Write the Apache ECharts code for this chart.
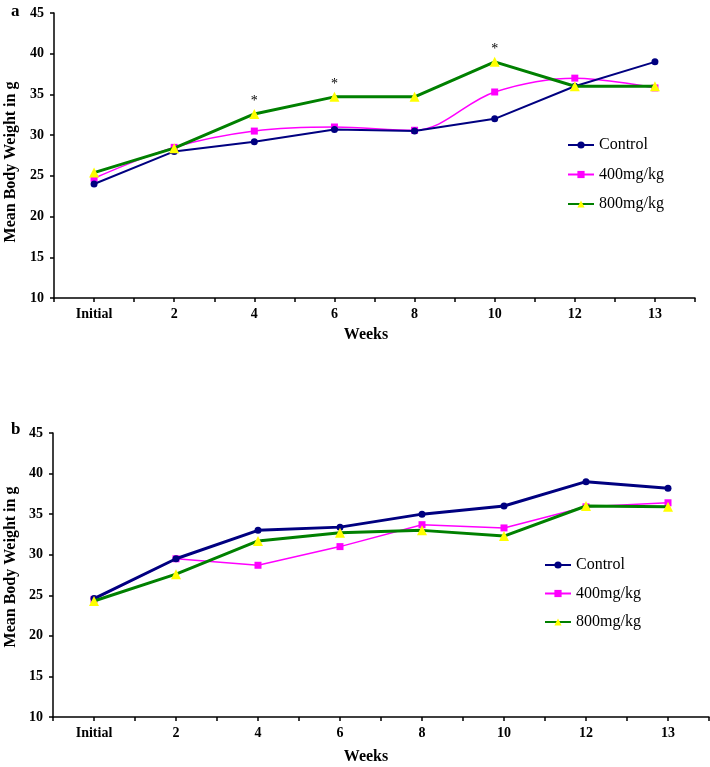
<!DOCTYPE html>
<html>
<head>
<meta charset="utf-8">
<script src="https://cdn.jsdelivr.net/npm/echarts@6/dist/echarts.min.js"></script>
<style>
html,body{margin:0;padding:0;background:#fff;}
#c{width:710px;height:767px;}
</style>
</head>
<body>
<div id="c"></div>
<script>
var weeks = ['Initial', '2', '4', '6', '8', '10', '12', '13'];
var seriesNames = ['Control', '400mg/kg', '800mg/kg'];
var yTicks = [10, 15, 20, 25, 30, 35, 40, 45];

// Panel a
var controlA = [24.0, 28.0, 29.2, 30.7, 30.5, 32.0, 36.0, 39.0];
var dose400A = [24.7, 28.5, 30.5, 31.0, 30.6, 35.3, 37.0, 35.8];
var dose800A = [25.4, 28.4, 32.6, 34.7, 34.7, 39.0, 36.0, 36.0];
var signifA = [2, 3, 5]; // indices marked with *

// Panel b
var controlB = [24.6, 29.5, 33.0, 33.4, 35.0, 36.0, 39.0, 38.2];
var dose400B = [24.5, 29.5, 28.7, 31.0, 33.7, 33.3, 35.9, 36.4];
var dose800B = [24.3, 27.6, 31.7, 32.7, 33.0, 32.3, 36.0, 35.9];

var serif = '"Liberation Serif","Times New Roman",serif';

function pts(arr, marks) {
  return arr.map(function (v, i) {
    var d = { value: [i, v] };
    if (marks && marks.indexOf(i) >= 0) {
      d.label = { show: true, formatter: '*', position: 'top', distance: 1,
        fontFamily: serif, fontSize: 14, color: '#000' };
    }
    return d;
  });
}

function xAxisCfg(gi) {
  return {
    type: 'value', gridIndex: gi, min: -0.5, max: weeks.length - 0.5, interval: 0.5,
    axisLine: { show: true, onZero: false, lineStyle: { color: '#000', width: 1.5 } },
    axisTick: { show: true, length: 4, lineStyle: { color: '#000', width: 1.5 } },
    splitLine: { show: false },
    axisLabel: {
      margin: 9, fontFamily: serif, fontWeight: 'bold', fontSize: 14, color: '#000',
      showMinLabel: true, showMaxLabel: true,
      formatter: function (v) {
        var r = Math.round(v);
        return Math.abs(v - r) < 1e-6 && r >= 0 && r < weeks.length ? weeks[r] : '';
      }
    }
  };
}
function yAxisCfg(gi) {
  return {
    type: 'value', gridIndex: gi, min: yTicks[0], max: yTicks[yTicks.length - 1], interval: 5,
    axisLine: { show: true, onZero: false, lineStyle: { color: '#000', width: 1.5 } },
    axisTick: { show: true, length: 4, lineStyle: { color: '#000', width: 1.5 } },
    splitLine: { show: false },
    axisLabel: { margin: 10, fontFamily: serif, fontWeight: 'bold', fontSize: 14, color: '#000' }
  };
}

function lineSeries(name, gi, data, color, symColor, symbol, size, width, smooth, z) {
  return {
    name: name, type: 'line', xAxisIndex: gi, yAxisIndex: gi, data: data,
    symbol: symbol, symbolSize: size, smooth: smooth, z: z,
    lineStyle: { color: color, width: width },
    itemStyle: { color: symColor, borderWidth: 0 },
    emphasis: { disabled: true }, animation: false
  };
}

var chart = echarts.init(document.getElementById('c'));
chart.setOption({
  backgroundColor: '#fff',
  animation: false,
  grid: [
    { left: 54, top: 13, width: 641, height: 285, outerBoundsMode: 'none', containLabel: false },
    { left: 53, top: 433, width: 656, height: 284, outerBoundsMode: 'none', containLabel: false }
  ],
  xAxis: [xAxisCfg(0), xAxisCfg(1)],
  yAxis: [yAxisCfg(0), yAxisCfg(1)],
  legend: [
    {
      left: 562, top: 132, orient: 'vertical', itemWidth: 26, itemHeight: 9, itemGap: 13.5,
      textStyle: { fontFamily: serif, fontSize: 16, color: '#000', lineHeight: 16 },
      data: seriesNames.map(function (n) { return { name: n }; }),
      selectedMode: false
    },
    {
      left: 539, top: 552, orient: 'vertical', itemWidth: 26, itemHeight: 9, itemGap: 12.5,
      textStyle: { fontFamily: serif, fontSize: 16, color: '#000', lineHeight: 16 },
      data: seriesNames.map(function (n) { return { name: n + ' ' }; }),
      selectedMode: false
    }
  ],
  series: [
    lineSeries(seriesNames[0], 0, pts(controlA), '#000080', '#000080', 'circle', 7, 2, false, 3),
    lineSeries(seriesNames[1], 0, pts(dose400A), '#FF00FF', '#FF00FF', 'rect', 7, 1.5, 0.35, 2),
    lineSeries(seriesNames[2], 0, pts(dose800A, signifA), '#008000', '#FFFF00', 'triangle', 10, 3, false, 4),
    lineSeries(seriesNames[0] + ' ', 1, pts(controlB), '#000080', '#000080', 'circle', 7, 3, false, 3),
    lineSeries(seriesNames[1] + ' ', 1, pts(dose400B), '#FF00FF', '#FF00FF', 'rect', 7, 1.5, false, 2),
    lineSeries(seriesNames[2] + ' ', 1, pts(dose800B), '#008000', '#FFFF00', 'triangle', 10, 3, false, 4)
  ],
  graphic: [
    { type: 'text', left: 11, top: 3, style: { text: 'a', font: 'bold 17px ' + serif, fill: '#000' } },
    { type: 'text', left: 11, top: 421, style: { text: 'b', font: 'bold 17px ' + serif, fill: '#000' } },
    { type: 'text', x: 11, y: 162, rotation: Math.PI / 2,
      style: { text: 'Mean Body Weight in g', font: 'bold 16px ' + serif, fill: '#000', align: 'center', verticalAlign: 'middle' } },
    { type: 'text', x: 11, y: 567, rotation: Math.PI / 2,
      style: { text: 'Mean Body Weight in g', font: 'bold 16px ' + serif, fill: '#000', align: 'center', verticalAlign: 'middle' } },
    { type: 'text', x: 366, y: 335,
      style: { text: 'Weeks', font: 'bold 16px ' + serif, fill: '#000', align: 'center', verticalAlign: 'middle' } },
    { type: 'text', x: 366, y: 757,
      style: { text: 'Weeks', font: 'bold 16px ' + serif, fill: '#000', align: 'center', verticalAlign: 'middle' } }
  ]
});
</script>
</body>
</html>
